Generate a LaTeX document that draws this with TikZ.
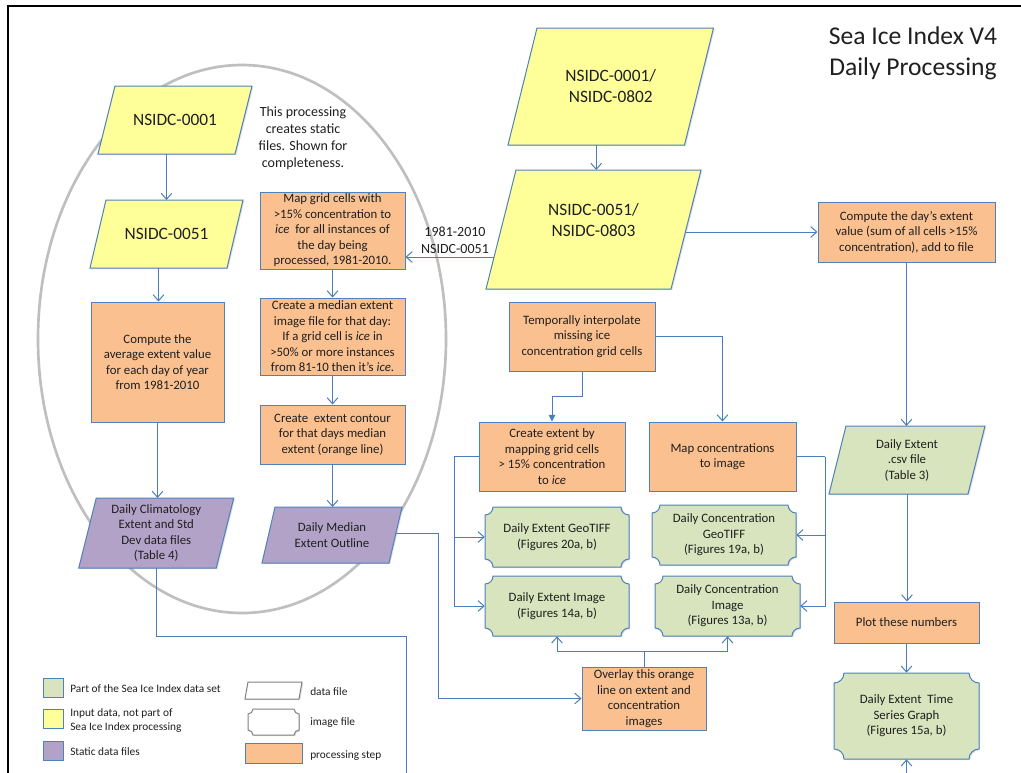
\documentclass[tikz,border=0pt]{standalone}
\usepackage{fontspec}
\setmainfont{Carlito}
\usetikzlibrary{arrows.meta,calc,shadows,backgrounds}
\pgfdeclarelayer{bottom}
\pgfsetlayers{bottom,background,main}
\definecolor{yel}{HTML}{FFFF99}
\definecolor{org}{HTML}{FAC090}
\definecolor{grn}{HTML}{D7E4BD}
\definecolor{pur}{HTML}{B3A2C7}
\definecolor{bord}{HTML}{4F81BD}
\definecolor{conn}{HTML}{4A7EBB}
\definecolor{txt}{HTML}{1F1F1F}
\newcommand\bigf{\fontsize{13}{15.8}\selectfont}
% parallelogram: [node opts]{name}{cx}{cy}{w}{h}{slant}{path style}{text}
\newcommand\pgram[9][]{%
  \begin{pgfonlayer}{background}
    \draw[shp,#8] ({#3-#5/2+#7/2},{#4-#6/2}) -- ({#3+#5/2+#7/2},{#4-#6/2}) -- ({#3+#5/2-#7/2},{#4+#6/2}) -- ({#3-#5/2-#7/2},{#4+#6/2}) -- cycle;
  \end{pgfonlayer}
  \node[ptext, minimum width={#5*0.75pt}, minimum height={#6*0.75pt},#1] (#2) at (#3,#4) {#9};
  \coordinate (#2-t) at ({#3+#7/2},{#4-#6/2});
  \coordinate (#2-b) at ({#3-#7/2},{#4+#6/2});
  \coordinate (#2-n) at (#3,{#4-#6/2});
  \coordinate (#2-s) at (#3,{#4+#6/2});
}
% plaque (image file): [path style]{name}{x1}{y1}{x2}{y2}{r}{text}
\newcommand\plaq[8][]{%
  \begin{pgfonlayer}{background}
  \draw[shp,fill=grn,#1] ({#3+#7},#4) -- ({#5-#7},#4) .. controls ({#5-#7},{#4+0.55*#7}) and ({#5-0.55*#7},{#4+#7}) .. (#5,{#4+#7}) -- (#5,{#6-#7}) .. controls ({#5-0.55*#7},{#6-#7}) and ({#5-#7},{#6-0.55*#7}) .. ({#5-#7},#6) -- ({#3+#7},#6) .. controls ({#3+#7},{#6-0.55*#7}) and ({#3+0.55*#7},{#6-#7}) .. (#3,{#6-#7}) -- (#3,{#4+#7}) .. controls ({#3+0.55*#7},{#4+#7}) and ({#3+#7},{#4+0.55*#7}) .. ({#3+#7},#4) -- cycle;
  \end{pgfonlayer}
  \node[ptext, minimum width={(#5-#3)*0.75pt}, minimum height={(#6-#4)*0.75pt}] (#2) at ({(#3+#5)/2},{(#4+#6)/2}) {#8};
}
% processing box: {name}{x1}{y1}{x2}{y2}{text}
\newcommand\rbox[6]{\node[obox, minimum width={(#4-#2)*0.75pt}, minimum height={(#5-#3)*0.75pt}] (#1) at ({(#2+#4)/2},{(#3+#5)/2}) {#6};}
\begin{document}
\begin{tikzpicture}[x=0.75pt,y=-0.75pt,
  shp/.style={draw=bord, line width=0.75pt, drop shadow={shadow xshift=0.9pt, shadow yshift=-0.9pt, opacity=0.25}},
  bodyfont/.style={font=\fontsize{9.6}{11.6}\selectfont, text=txt, align=center},
  obox/.style={shp, bodyfont, fill=org, inner xsep=1pt, inner ysep=0.5pt},
  ptext/.style={bodyfont, inner sep=0pt},
  legsq/.style={draw=bord, line width=0.75pt, inner sep=0pt},
  legtxt/.style={font=\fontsize{8.5}{10.5}\selectfont, text=txt, align=left, anchor=west, inner sep=0pt},
  line/.style={draw=conn, line width=0.75pt},
  arr/.style={line, -{Straight Barb[length=4.5pt,width=8pt]}},
  tri/.style={line, -{Triangle[length=5pt,width=5pt]}}]
\useasboundingbox (0,0) rectangle (1021,772);
\begin{pgfonlayer}{bottom}
  \draw[draw=black!25, line width=2pt] (242,339) ellipse [x radius=204, y radius=274];
  \draw[black, line width=1.4pt] (8,790) -- (8,6) -- (1040,6);
\end{pgfonlayer}
% title and notes
\node[font=\fontsize{19.2}{23.2}\selectfont, align=center, text=txt] (title) at (913,53.5) {Sea Ice Index V4\\Daily Processing};
\node[font=\fontsize{10.5}{12.8}\selectfont, align=center, text=txt] (note) at (303,138.5) {This processing\\creates static\\files. Shown for\\completeness.};
% data files
\pgram[font=\bigf]{p1}{175}{120}{137}{68}{17}{fill=yel}{NSIDC-0001}
\pgram[font=\bigf]{p2}{166.5}{234}{137}{68}{16}{fill=yel}{NSIDC-0051}
\pgram[font=\bigf]{p3}{610.75}{86.5}{176.5}{117}{29}{fill=yel}{NSIDC-0001/\\NSIDC-0802}
\pgram[font=\bigf, yshift=7pt]{p4}{593.5}{229.5}{185}{119}{30}{fill=yel}{NSIDC-0051/\\NSIDC-0803}
\pgram{p5}{156.25}{533}{137.5}{70}{17.5}{fill=pur}{Daily Climatology\\Extent and Std\\Dev data files\\(Table 4)}
\pgram{p6}{332}{535}{127}{56}{13}{fill=pur}{Daily Median\\Extent Outline}
\pgram{p7}{907}{460}{139}{68}{17}{fill=grn}{Daily Extent\\.csv file\\(Table 3)}
% processing steps
\rbox{o1}{91}{302}{224}{422}{Compute the\\average extent value\\for each day of year\\from 1981-2010}
\rbox{o2}{260}{192}{405}{269}{Map grid cells with\\>15\% concentration to\\\textit{ice}\ \ for all instances of\\the day being\\processed, 1981-2010.}
\rbox{o3}{260}{298}{405}{375}{Create a median extent\\image file for that day:\\If a grid cell is \textit{ice} in\\>50\% or more instances\\from 81-10 then it’s \textit{ice}.}
\rbox{o4}{260}{405}{405}{464}{Create\ \ extent contour\\for that days median\\extent (orange line)}
\rbox{o5}{818}{202}{995}{262}{Compute the day’s extent\\value (sum of all cells >15\%\\concentration), add to file}
\rbox{o6}{509}{302}{655}{371}{Temporally interpolate\\missing ice\\concentration grid cells}
\rbox{o7}{479}{422}{625}{491}{Create extent by\\mapping grid cells\\> 15\% concentration\\to \textit{ice}}
\rbox{o8}{649}{422}{796}{491}{Map concentrations\\to image}
\rbox{o9}{582}{667}{706}{730}{Overlay this orange\\line on extent and\\concentration\\images}
\rbox{o10}{834}{602}{979}{643}{Plot these numbers}
% image files
\plaq{g1}{485}{507}{629}{567}{8}{Daily Extent GeoTIFF\\(Figures 20a, b)}
\plaq{g2}{652}{505}{796}{565}{8}{Daily Concentration\\GeoTIFF\\(Figures 19a, b)}
\plaq{g3}{485}{576}{629}{636}{8}{Daily Extent Image\\(Figures 14a, b)}
\plaq{g4}{655}{576}{800}{636}{8}{Daily Concentration\\Image\\(Figures 13a, b)}
\plaq{g5}{834}{673}{979}{759}{10}{Daily Extent\ \ Time\\Series Graph\\(Figures 15a, b)}
% label
\node[font=\fontsize{10.5}{12.8}\selectfont, align=center, text=txt, inner sep=0pt] (lbl) at (455,240.5) {1981-2010\\NSIDC-0051};
% helper coordinates
\coordinate (p4l) at (494,257);
\coordinate (p4r) at (686,232);
\coordinate (climturn) at (406,636);
\coordinate (climend) at (406,780);
\coordinate (tsin) at (906.5,780);
\coordinate (lbus) at (454,456.5);
\coordinate (rbus) at (825,456.5);
\coordinate (obus) at (644,651);
\coordinate (p6r) at (396,533);
\coordinate (mturn) at (438,533);
% connectors
\draw[arr] (p1-b) -- (p1-b |- p2-t);
\draw[arr] (p2-b) -- (p2-b |- o1.north);
\draw[arr] (o1.south) -- (o1.south |- p5-n);
\draw[line] (p5-s) |- (climturn) -- (climend);
\draw[arr] (o2.south) -- (o3.north);
\draw[arr] (o3.south) -- (o4.north);
\draw[arr] (o4.south) -- (o4.south |- p6-n);
\draw[arr] (p3-b) -- (p3-b |- p4-t);
\draw[arr] (p4l) -- (o2.east |- p4l);
\draw[arr] (p4r) -- (o5.west);
\draw[arr] (o5.south) -- (o5.south |- p7-n);
\draw[arr] (p7-s) -- (p7-s |- o10.north);
\draw[arr] (o10.south) -- (g5.north);
\draw[arr] (tsin) -- (g5.south);
\draw[tri] (o6.south) -- ++(0,25) -| (o7.north);
\draw[arr] (o6.east) -| (o8.north);
\draw[line] (o7.west) -- (lbus);
\draw[arr] (lbus) |- (g1.west);
\draw[arr] (lbus) |- (g3.west);
\draw[line] (o8.east) -- (rbus);
\draw[arr] (rbus) |- (g2.east);
\draw[arr] (rbus) |- (g4.east);
\draw[line] (o9.north) -- (obus);
\draw[arr] (obus) -| (g3.south);
\draw[arr] (obus) -| (g4.south);
\draw[arr] (p6r) -- (mturn) |- (o9.west);
% legend
\node[legsq, fill=grn, minimum width=15pt, minimum height=14.25pt] (lg1) at (53,687.5) {};
\node[legsq, fill=yel, minimum width=15pt, minimum height=14.25pt] (lg2) at (53,718.5) {};
\node[legsq, fill=pur, minimum width=15pt, minimum height=14.25pt] (lg3) at (53,750.5) {};
\node[legtxt] (lt1) at (70,689) {Part of the Sea Ice Index data set};
\node[legtxt] (lt2) at (70,721) {Input data, not part of\\Sea Ice Index processing};
\node[legtxt] (lt3) at (70,752) {Static data files};
\pgram{ld}{273.5}{690.5}{54}{17}{3}{fill=white, draw=black!50}{}
\plaq[fill=white, draw=black!50]{li}{248}{709}{299}{735}{5}{}
\node[obox, minimum width=42.75pt, minimum height=15pt] (lp) at (273.5,753) {};
\node[legtxt] (lt4) at (310,692) {data file};
\node[legtxt] (lt5) at (310,723) {image file};
\node[legtxt] (lt6) at (310,756) {processing step};
\end{tikzpicture}
\end{document}
